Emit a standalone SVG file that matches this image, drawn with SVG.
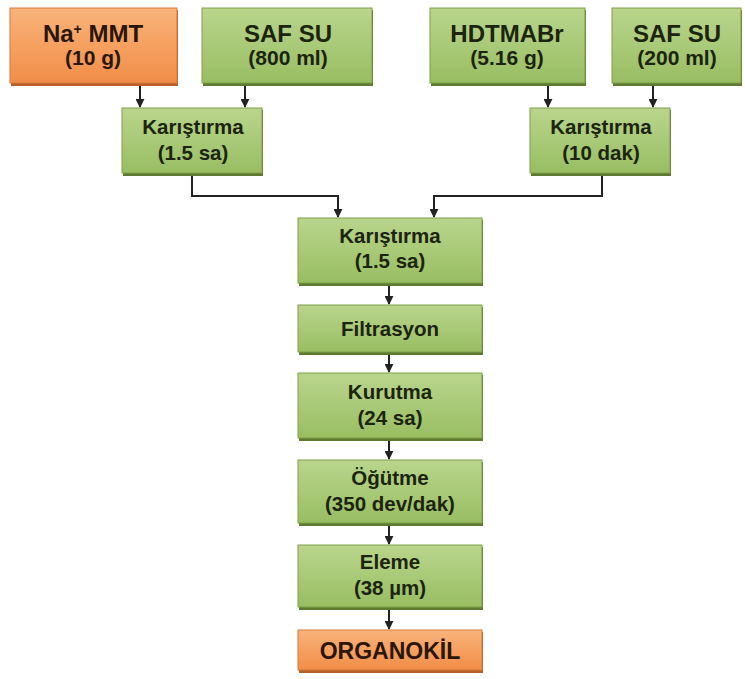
<svg xmlns="http://www.w3.org/2000/svg" width="745" height="679" viewBox="0 0 745 679">
<defs>
<linearGradient id="gg" x1="0" y1="0" x2="0" y2="1">
<stop offset="0" stop-color="#b9d58c"/><stop offset="0.5" stop-color="#a9ca78"/><stop offset="1" stop-color="#98bd62"/>
</linearGradient>
<linearGradient id="og" x1="0" y1="0" x2="0" y2="1">
<stop offset="0" stop-color="#f9b47c"/><stop offset="0.5" stop-color="#f6a060"/><stop offset="1" stop-color="#f08d48"/>
</linearGradient>
<marker id="ah" viewBox="0 0 10 10" refX="9" refY="5" markerWidth="9" markerHeight="9" markerUnits="userSpaceOnUse" orient="auto">
<path d="M0,0 L10,5 L0,10 z" fill="#222"/>
</marker>
</defs>
<style>
.g{fill:url(#gg);stroke:#7fa048;stroke-width:1}
.o{fill:url(#og);stroke:#d57a38;stroke-width:1}
.sg{fill:#5d7a30}
.so{fill:#b8602a}
.t{font-family:"Liberation Sans",Arial,sans-serif;font-weight:bold;text-anchor:middle;fill:#1c2410}
.to{fill:#2a1608}
.p{font-size:20.5px}
.h{font-size:24px}
.s{font-size:21px}
.c{fill:none;stroke:#222;stroke-width:2;marker-end:url(#ah)}
</style>
<rect width="745" height="679" fill="#fff"/>
<g id="connectors">
<path class="c" d="M140,84 V107"/>
<path class="c" d="M245,84 V107"/>
<path class="c" d="M548,84 V107"/>
<path class="c" d="M653,84 V107"/>
<path class="c" d="M192,175 V196 H338 V217"/>
<path class="c" d="M602,175 V196 H434 V217"/>
<path class="c" d="M389,285 V304"/>
<path class="c" d="M389,354 V372"/>
<path class="c" d="M389,440 V459"/>
<path class="c" d="M389,525 V544"/>
<path class="c" d="M389,609 V629"/>
</g>
<g id="n-namm">
<rect class="so" x="11" y="10" width="167" height="76"/>
<rect class="o" x="10" y="8" width="167" height="75"/>
<text class="t to h" x="93" y="42">Na<tspan dy="-8" font-size="14">+</tspan><tspan dy="8"> MMT</tspan></text>
<text class="t to s" x="93" y="65">(10 g)</text>
</g>
<g id="n-safsu1">
<rect class="sg" x="203" y="10" width="170" height="76"/>
<rect class="g" x="202" y="8" width="170" height="75"/>
<text class="t h" x="288" y="42">SAF SU</text>
<text class="t s" x="288" y="65">(800 ml)</text>
</g>
<g id="n-hdtma">
<rect class="sg" x="431" y="10" width="155" height="76"/>
<rect class="g" x="430" y="8" width="155" height="75"/>
<text class="t h" x="507" y="42">HDTMABr</text>
<text class="t s" x="507" y="65">(5.16 g)</text>
</g>
<g id="n-safsu2">
<rect class="sg" x="613" y="10" width="129" height="76"/>
<rect class="g" x="612" y="8" width="129" height="75"/>
<text class="t h" x="677" y="42">SAF SU</text>
<text class="t s" x="677" y="65">(200 ml)</text>
</g>
<g id="n-kar1">
<rect class="sg" x="123" y="110" width="140" height="66"/>
<rect class="g" x="122" y="108" width="140" height="65"/>
<text class="t p" x="193" y="134">Karıştırma</text>
<text class="t p" x="193" y="160">(1.5 sa)</text>
</g>
<g id="n-kar2">
<rect class="sg" x="531" y="110" width="140" height="66"/>
<rect class="g" x="530" y="108" width="140" height="65"/>
<text class="t p" x="601" y="134">Karıştırma</text>
<text class="t p" x="601" y="160">(10 dak)</text>
</g>
<g id="n-kar3">
<rect class="sg" x="299" y="220" width="184" height="66"/>
<rect class="g" x="298" y="218" width="184" height="65"/>
<text class="t p" x="390" y="243">Karıştırma</text>
<text class="t p" x="390" y="268">(1.5 sa)</text>
</g>
<g id="n-filt">
<rect class="sg" x="299" y="307" width="184" height="48"/>
<rect class="g" x="298" y="305" width="184" height="47"/>
<text class="t p" x="390" y="336">Filtrasyon</text>
</g>
<g id="n-kuru">
<rect class="sg" x="299" y="375" width="184" height="66"/>
<rect class="g" x="298" y="373" width="184" height="65"/>
<text class="t p" x="390" y="399">Kurutma</text>
<text class="t p" x="390" y="425">(24 sa)</text>
</g>
<g id="n-ogut">
<rect class="sg" x="299" y="462" width="184" height="64"/>
<rect class="g" x="298" y="460" width="184" height="63"/>
<text class="t p" x="390" y="485">Öğütme</text>
<text class="t p" x="390" y="511">(350 dev/dak)</text>
</g>
<g id="n-elem">
<rect class="sg" x="299" y="547" width="184" height="63"/>
<rect class="g" x="298" y="545" width="184" height="62"/>
<text class="t p" x="390" y="569">Eleme</text>
<text class="t p" x="390" y="595">(38 µm)</text>
</g>
<g id="n-org">
<rect class="so" x="299" y="632" width="184" height="41"/>
<rect class="o" x="298" y="630" width="184" height="40"/>
<text class="t to" x="390" y="659" font-size="23">ORGANOKİL</text>
</g>
</svg>
